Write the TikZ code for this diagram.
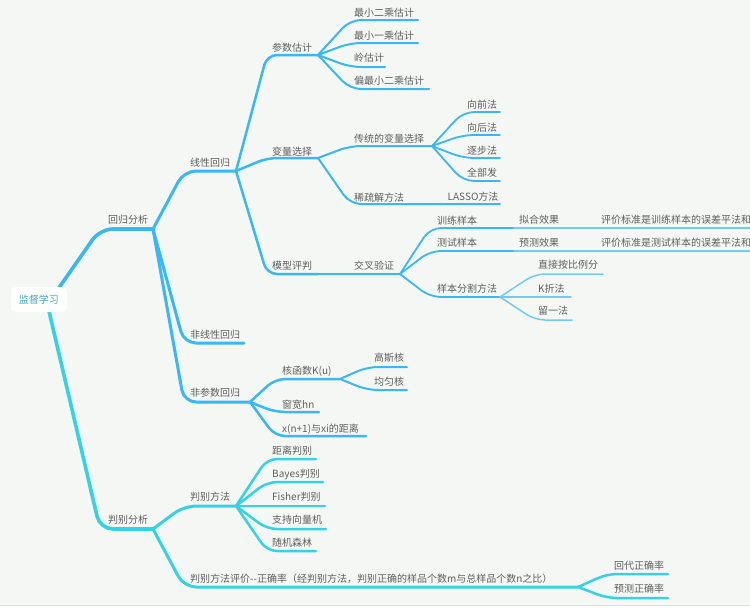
\documentclass[tikz,border=0pt]{standalone}
\usepackage{fontspec}
\setmainfont{Noto Sans CJK SC}
\usetikzlibrary{calc}
\definecolor{bg}{HTML}{F5F7F5}
\definecolor{blu}{HTML}{38B8F4}
\definecolor{cya}{HTML}{33D3E6}
\definecolor{txt}{HTML}{5E5E5E}
\definecolor{roottxt}{HTML}{45A5BD}
% \topic{name}{x1}{x2}{y}{textx}{textbase}{text}
\newcommand\topic[7]{%
  \coordinate (#1-s) at (#2,#4);
  \coordinate (#1-e) at (#3,#4);
  \node[lbl] (#1) at (#5,#6) {#7};}
\newcommand\conn[3]{\draw[#1] (#2-e) -- (#3-s) -- (#3-e);}
\newcommand\sconn[3]{\draw[#1] (#2-e) -- (#3-e);}
\begin{document}
\begin{tikzpicture}[x=1pt,y=-1pt,
  font=\fontsize{10}{12}\selectfont,
  lbl/.style={anchor=base west, inner sep=0pt, text=txt},
  lA/.style={line width=3.6pt, line cap=round, rounded corners=13pt},
  lB/.style={line width=3pt, line cap=round, rounded corners=12pt},
  lC/.style={line width=2.5pt, line cap=round, rounded corners=10pt},
  lD/.style={line width=2pt, line cap=round, rounded corners=11pt},
  lE/.style={line width=1.8pt, line cap=round, rounded corners=11pt},
  lF/.style={line width=1.5pt, line cap=round, rounded corners=10pt, draw=blu!72!white},
]
\useasboundingbox (0,0) rectangle (750,608);
\fill[bg] (0,0) rectangle (750,608);
\clip (0,0) rectangle (750,608);
\fill[white] (0,606) rectangle (750,608);
\draw[black!12, line width=1pt] (0,605.5) -- (750,605.5);

% ---- topics ----
\topic{hg}{100}{153}{229}{108}{223}{回归分析}
\topic{pb}{100}{153}{529}{108}{523}{判别分析}

\topic{xx}{184}{236}{171}{190}{166}{线性回归}
\topic{fx}{184}{244}{343}{190}{338.5}{非线性回归}
\topic{fc}{184}{250}{402}{190}{396}{非参数回归}
\topic{pbff}{184}{236}{506}{190}{500}{判别方法}
\topic{pj}{184}{578}{587}{190}{582}{判别方法评价-{}-正确率（经判别方法，判别正确的样品个数m与总样品个数n之比）}

\topic{cs}{267}{318}{55}{272}{51}{参数估计}
\topic{bl}{267}{318}{158}{272}{155}{变量选择}
\topic{mx}{267}{318}{274}{272}{269}{模型评判}
\topic{hh}{275}{340}{379}{282}{374}{核函数K(u)}
\topic{ck}{275}{319}{412}{282}{408.5}{窗宽hn}
\topic{jl}{275}{366}{436}{282}{432}{x(n+1)与xi的距离}
\topic{jlpb}{267}{316}{459}{272}{454}{距离判别}
\topic{bay}{267}{323}{482}{272}{477}{Bayes判别}
\topic{fis}{267}{325}{506}{272}{500}{Fisher判别}
\topic{svm}{267}{326}{529}{272}{523}{支持向量机}
\topic{rf}{267}{316}{551}{272}{546}{随机森林}
\topic{hd}{607}{668}{574}{614}{569}{回代正确率}
\topic{ycz}{607}{668}{598}{614}{592.5}{预测正确率}

\topic{aa}{350}{418}{20}{354}{16.3}{最小二乘估计}
\topic{ab}{350}{418}{43}{354}{39}{最小一乘估计}
\topic{ac}{350}{385}{67}{354}{61.6}{岭估计}
\topic{ad}{350}{429}{89}{354}{84.3}{偏最小二乘估计}
\topic{ct}{350}{432}{146}{354}{142}{传统的变量选择}
\topic{xs}{350}{442}{204}{354}{201}{稀疏解方法}
\topic{jc}{349}{400}{274}{354}{269}{交叉验证}
\topic{gs}{367}{407}{367}{374}{361}{高斯核}
\topic{jy}{367}{407}{390}{374}{385}{均匀核}

\topic{qf}{463}{500}{112}{467}{108}{向前法}
\topic{hf}{463}{500}{135}{467}{131}{向后法}
\topic{zb}{463}{500}{158}{467}{154}{逐步法}
\topic{qb}{463}{500}{181}{467}{176}{全部发}
\topic{las}{442}{500}{204}{447.5}{200.5}{LASSO方法}
\topic{xl}{430}{514}{228}{437}{224}{训练样本}
\topic{cssb}{430}{514}{251}{437}{246}{测试样本}
\topic{fg}{430}{500}{297}{437}{292}{样本分割方法}

\topic{nh}{514}{597}{228}{519}{223.3}{拟合效果}
\topic{ycx}{514}{597}{251}{519}{246.3}{预测效果}
\topic{zj}{535}{603}{274}{538}{268.5}{直接按比例分}
\topic{kz}{535}{571}{297}{538}{292}{K折法}
\topic{ly}{535}{572}{320}{538}{314.3}{留一法}

\topic{pa}{597}{760}{228}{601}{223.3}{评价标准是训练样本的误差平法和}
\topic{pbb}{597}{760}{251}{601}{246.3}{评价标准是测试样本的误差平法和}

% ---- connectors ----
\coordinate (rootup) at (56,292);
\coordinate (rootdn) at (48,307);
\draw[lA, blu] (rootup) -- (hg-s) -- (hg-e);
\draw[lA, cya] (rootdn) -- (pb-s) -- (pb-e);

\conn{lB, blu}{hg}{xx}
\conn{lB, blu}{hg}{fx}
\conn{lB, blu}{hg}{fc}
\conn{lB, cya}{pb}{pbff}
\conn{lB, cya}{pb}{pj}

\conn{lC, blu}{xx}{cs}
\conn{lC, blu}{xx}{bl}
\conn{lC, blu}{xx}{mx}
\conn{lC, blu}{fc}{hh}
\conn{lC, blu}{fc}{ck}
\conn{lC, blu}{fc}{jl}
\conn{lC, cya}{pbff}{jlpb}
\conn{lC, cya}{pbff}{bay}
\conn{lC, cya}{pbff}{fis}
\conn{lC, cya}{pbff}{svm}
\conn{lC, cya}{pbff}{rf}
\conn{lC, cya}{pj}{hd}
\conn{lC, cya}{pj}{ycz}

\conn{lD, blu}{cs}{aa}
\conn{lD, blu}{cs}{ab}
\conn{lD, blu}{cs}{ac}
\conn{lD, blu}{cs}{ad}
\conn{lD, blu}{bl}{ct}
\conn{lD, blu}{bl}{xs}
\sconn{lD, blu}{mx}{jc}
\conn{lD, blu}{hh}{gs}
\conn{lD, blu}{hh}{jy}

\conn{lE, blu}{ct}{qf}
\conn{lE, blu}{ct}{hf}
\conn{lE, blu}{ct}{zb}
\conn{lE, blu}{ct}{qb}
\sconn{lE, blu}{xs}{las}
\conn{lE, blu}{jc}{xl}
\conn{lE, blu}{jc}{cssb}
\conn{lE, blu}{jc}{fg}

\sconn{lF}{xl}{nh}
\sconn{lF}{cssb}{ycx}
\conn{lF}{fg}{zj}
\sconn{lF}{fg}{kz}
\conn{lF}{fg}{ly}
\sconn{lF}{nh}{pa}
\sconn{lF}{ycx}{pbb}

\node[fill=white, rounded corners=5pt, minimum width=56pt, minimum height=25pt,
      inner sep=0pt, text=roottxt] (root) at (39,299.5) {监督学习};
\end{tikzpicture}
\end{document}
